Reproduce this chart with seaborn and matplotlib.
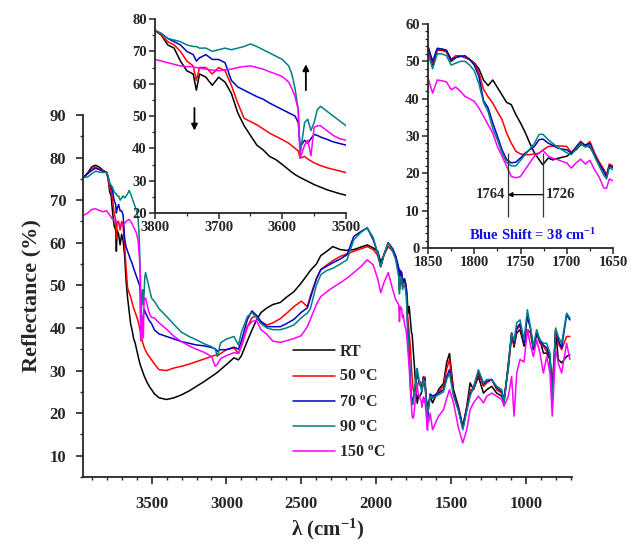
import matplotlib
matplotlib.use("Agg")
import numpy as np
import pandas as pd
import seaborn as sns
import matplotlib.pyplot as plt
from matplotlib.ticker import MultipleLocator

# wavenumber grid (cm-1): left shoulder, OH region (inset 1), middle, C=O region (inset 2), fingerprint
wavenumber = [3950, 3925, 3900, 3875, 3850, 3825,
              3800, 3790, 3780, 3770, 3760, 3750, 3740, 3735, 3730, 3720, 3710, 3700, 3690, 3680,
              3670, 3660, 3650, 3640, 3630, 3620, 3610, 3600, 3590, 3585, 3580, 3575, 3572, 3565,
              3560, 3555, 3550, 3545, 3540, 3530, 3520, 3510, 3500,
              3480, 3450, 3400, 3350, 3300, 3250, 3200, 3150, 3100, 3075, 3060, 3040, 3000, 2950,
              2920, 2900, 2860, 2830, 2800, 2770, 2730, 2690, 2640, 2600, 2550, 2500, 2460, 2440,
              2400, 2370, 2330, 2290, 2240, 2195, 2150, 2100, 2060, 2020, 1990, 1970, 1950, 1920,
              1890, 1870,
              1850, 1845, 1840, 1835, 1830, 1825, 1820, 1815, 1810, 1805, 1800, 1795, 1790, 1785,
              1780, 1775, 1770, 1765, 1760, 1755, 1750, 1745, 1740, 1735, 1730, 1726, 1720, 1715,
              1710, 1705, 1700, 1695, 1690, 1685, 1680, 1675, 1670, 1665, 1660, 1657, 1654, 1650,
              1640, 1624, 1584, 1551, 1529, 1511, 1484, 1451, 1422, 1396, 1373, 1351, 1318, 1284,
              1262, 1229, 1196, 1162, 1147, 1118, 1096, 1080, 1062, 1040, 1013, 991, 969, 951,
              929, 907, 884, 862, 840, 825, 802, 785, 762, 729, 707]

rt = [75.5, 76.5, 77.8, 78.2, 77.8, 77,
      76.5, 75, 72, 71, 67, 64, 63, 58, 63, 62, 59.5, 62, 60.5, 57,
      51, 47, 44, 41, 39.5, 37.5, 36.5, 35, 33.4, 32.6, 31.9, 31.3, 31, 30.3,
      29.8, 29.3, 28.8, 28.4, 28, 27.2, 26.6, 26, 25.5,
      24.5, 23.6, 23.2, 23.6, 24.3, 25.2, 26.3, 27.4, 28.6, 29.2, 29.6, 30.2, 31.4, 33,
      32.5, 33.5, 37, 39.5, 41.8, 43.6, 44.7, 45.5, 46, 47.2, 48.5, 50.6, 52.5, 53.5,
      55, 57, 58, 59.1, 58.4, 58.2, 58.4, 59, 59.5, 58.8, 58, 55.5, 57, 60,
      58.5, 56.8,
      54, 49, 53, 53, 52.5, 50, 51, 51.5, 51, 50.5, 49.6, 48, 45, 43.5,
      45, 43, 41, 39, 38.4, 35.7, 33.5, 31, 28.1, 25.5, 23.7, 22.3, 24.1, 23.6,
      24, 24.3, 24.6, 25.5, 26.3, 27.7, 27.5, 27, 25, 23, 21, 19.5, 22, 22,
      24, 22.4, 25.5, 27, 32, 34, 25.5, 21.5, 16.9, 21.5, 27.1, 25.5, 28.6, 24.7,
      25.5, 26.3, 24.7, 24, 22.4, 31.8, 38.8, 35.5, 38.8, 39.6, 35.7, 39.6, 38.8, 34.9,
      38.8, 37.2, 34.1, 34.1, 32.6, 25.5, 39.6, 32.6, 31.8, 33.3, 33.7]

c50 = [75.5, 76.3, 77.3, 77.8, 77.3, 77,
       76.5, 75, 73, 72, 70, 67, 65.5, 61, 65, 65, 63, 65, 64, 59.5,
       54, 49.3, 48.3, 47.3, 46, 44.7, 43.7, 42.7, 41.6, 40.8, 40, 39.2, 37, 37.5,
       36.7, 36.1, 35.5, 35.1, 34.7, 34, 33.5, 33, 32.5,
       31.5, 30.2, 30, 30.6, 31, 31.5, 32.1, 32.7, 33.3, 33.6, 33.5, 34, 34.9, 35.3,
       34, 35.6, 40.3, 42.4, 42.8, 41.5, 40.7, 41.2, 42.2, 43.4, 45, 46.3, 45, 47.5,
       51.5, 53.7, 54.8, 55.8, 56.8, 57.4, 58, 58.6, 59.1, 58.4, 57, 54.4, 57, 59.1,
       58, 56.4,
       53, 49.5, 53, 53.2, 52.5, 50.5, 51.5, 51.5, 51, 50.5, 49.5, 47, 42.5, 40.5,
       38.8, 36.5, 34.4, 30.8, 28.1, 25.9, 25.2, 25, 25, 25.2, 25.4, 26.2, 27.2, 27.3,
       27.4, 27.3, 27.2, 25.6, 27, 28.6, 27.5, 28.5, 25.5, 23, 21, 19.5, 22.5, 22,
       24, 23.5, 25, 26.3, 30.5, 32.6, 24.7, 21, 16.5, 21, 25.5, 25.5, 29.4, 26.3,
       27.1, 27.9, 25.5, 24.7, 23.5, 30.5, 38, 36, 39.6, 40.5, 36.4, 39.6, 38.8, 35.3,
       38.8, 36.4, 35.7, 34.5, 33.3, 24, 39.6, 36.4, 34.9, 38, 38]

c70 = [75.5, 76.3, 77, 77.5, 77.2, 76.8,
       76.5, 75.5, 74, 73, 72, 70, 69, 67, 68, 69, 67.5, 67.5, 66.5, 61,
       59, 58, 57, 56, 55.2, 54, 53, 52, 51, 50.5, 50, 48, 40.5, 42.5,
       41.6, 43, 44.3, 44, 43.5, 42.8, 42, 41.5, 41,
       39.5, 38.6, 38, 37.4, 36.8, 36.4, 36, 35.8, 35.4, 35.1, 34.5, 34.9, 34.9, 35.5,
       35, 37, 42, 44, 43, 41.5, 40.3, 40.3, 40.3, 41, 42, 43.7, 44.7, 47,
       51.5, 53.7, 54.5, 55.3, 56.2, 57.2, 61.5, 62.7, 63.5, 60.7, 57.5, 54.4, 57, 60,
       58.5, 56.8,
       54, 50, 53.5, 53.3, 53, 50.5, 51, 51.3, 51.5, 50.5, 49, 46, 39.5, 37.5,
       33.5, 30, 26.3, 23.7, 22.8, 23, 24.1, 25.4, 26.3, 27.2, 29, 29.2, 28.1, 27.5,
       26.8, 26.5, 26.3, 25.4, 27, 28.3, 27.5, 28, 25, 22.5, 20.5, 19, 22, 21.5,
       24.5, 24, 24.7, 25.5, 28.6, 30.2, 24.5, 20.8, 16.5, 20.8, 24.5, 26, 29.8, 26.8,
       27.5, 27.9, 26, 25, 23, 31, 38.8, 36.4, 40, 41, 36.4, 42.7, 39.6, 35.3,
       38.8, 36.8, 36, 35.3, 33.3, 23.2, 39.6, 37.2, 35.3, 43.1, 41.9]

c90 = [75.3, 75.5, 76.2, 76.8, 76.6, 76.5,
       76.5, 75.5, 74, 73.5, 73, 72, 71.5, 71.5, 71, 71, 70, 70.5, 71, 70.5,
       71, 71.5, 72.3, 71.5, 70.5, 69.5, 68.5, 67.5, 65.5, 63, 58.5, 52, 38, 48,
       49, 45.5, 48, 52, 53, 51.5, 50, 48.5, 47,
       46.2, 44.5, 42.7, 40.8, 39, 38, 37.2, 36.3, 35.6, 35, 33.3, 36.5, 37.4, 38,
       36, 39, 42.7, 43.6, 42.5, 41, 40, 39.6, 39.6, 40, 40.7, 42.4, 43.5, 44.5,
       50, 52.5, 53.5, 54, 55, 56, 60.7, 62.5, 63.5, 61.2, 57.5, 54.4, 57, 60,
       58, 56,
       52, 48, 52, 52, 51.5, 49, 49.5, 50, 50, 49, 47.5, 44, 39, 36.5,
       32, 29, 25.5, 23, 22, 22, 23.5, 25, 26.5, 28, 30.4, 30.5, 29, 28,
       27, 26.3, 25.5, 25, 26.5, 28, 27, 27.5, 24.5, 22, 19.5, 18.5, 21.5, 21,
       24, 23.5, 24.3, 25, 28, 29.4, 24, 20.5, 16.1, 20.5, 24, 26, 30.2, 27.1,
       27.9, 27.9, 26.3, 25.5, 22.4, 31, 38.8, 37, 41.2, 41.9, 37.2, 44.3, 40, 35.7,
       39.6, 37.2, 36.4, 36.4, 34.1, 22.4, 40, 38, 36.4, 43.5, 42.3]

c150 = [66.5, 67, 67.8, 68, 67.6, 67.3,
        67.5, 67, 66.5, 66, 65.5, 65.3, 65.2, 65, 64.8, 64.5, 64.2, 64, 64.3, 64.5,
        65, 65.3, 65.5, 65, 64.5, 63.7, 63, 62.2, 60.5, 58.5, 56, 52, 37, 41,
        42.5, 37.7, 46.5, 47, 47, 45.5, 44, 43, 42.5,
        42.3, 41.2, 39.7, 38, 36.8, 35.8, 35, 34.3, 33.3, 31, 31.5, 32.8, 33.5, 34.2,
        34, 36, 40.3, 41.5, 41.8, 39.6, 38.5, 36.9, 36.6, 37, 37.5, 38.2, 40.3, 42,
        45.5, 47.4, 48.5, 49.5, 50.6, 51.7, 53, 54.5, 56, 54.8, 51.5, 48.3, 50.5, 53,
        49, 46.6,
        45.5, 41.5, 45, 44.8, 44.5, 42.4, 43.1, 42, 40.6, 40, 39.3, 37.5, 35.3, 33,
        30.8, 27.2, 24.6, 21.9, 19.2, 18.8, 19.2, 21, 22.8, 24.6, 25.4, 26.2, 24.6, 24,
        23.7, 23.2, 22.8, 21.4, 22.8, 23.8, 22.5, 23.5, 21, 19, 16.1, 16, 18.5, 18,
        20, 16.1, 19.3, 20.8, 23.5, 25.5, 22.4, 16.5, 13, 16.1, 20.8, 22.4, 24, 22.4,
        24, 24.7, 24, 23.2, 21.6, 24, 28.6, 19.3, 29.4, 32.6, 32, 39.6, 35.7, 33.3,
        37.2, 34.1, 29.4, 33.3, 29.4, 19.3, 34.9, 31.8, 29.4, 36.4, 32.6]

labels = ["RT", r"50 $^{o}$C", r"70 $^{o}$C", r"90 $^{o}$C", r"150 $^{o}$C"]
colors = ["#000000", "#ff0000", "#0000c8", "#008080", "#ff00ff"]

frames = []
for lab, vals in zip(labels, [rt, c50, c70, c90, c150]):
    frames.append(pd.DataFrame({"wn": wavenumber, "R": vals, "sample": lab}))
df = pd.concat(frames, ignore_index=True)
pal = dict(zip(labels, colors))

sns.set_style("ticks")
plt.rcParams["font.family"] = ["Liberation Serif", "DejaVu Serif"]
plt.rcParams["font.weight"] = "bold"
plt.rcParams["mathtext.fontset"] = "custom"
plt.rcParams["mathtext.rm"] = "Liberation Serif:bold"
plt.rcParams["mathtext.it"] = "Liberation Serif:bold:italic"
plt.rcParams["mathtext.bf"] = "Liberation Serif:bold"
plt.rcParams["mathtext.default"] = "rm"

fig = plt.figure(figsize=(6.31, 5.5), dpi=100)
ax = fig.add_axes([0.1315, 0.1327, 0.7750, 0.6582])
ins1 = fig.add_axes([0.2456, 0.6127, 0.3027, 0.3527])
ins2 = fig.add_axes([0.6783, 0.5490, 0.2932, 0.4074])

for a in (ax, ins1, ins2):
    sns.lineplot(data=df, x="wn", y="R", hue="sample", palette=pal, estimator=None,
                 sort=False, linewidth=1.1, ax=a, legend=(a is ax))
    a.set_facecolor("none")
    for s in ("top", "right"):
        a.spines[s].set_visible(False)
    for s in ("left", "bottom"):
        a.spines[s].set_linewidth(1.3)
    a.set_xlabel("")
    a.set_ylabel("")

# main axes
ax.set_xlim(3958, 693)
ax.set_ylim(5, 90)
ax.xaxis.set_major_locator(MultipleLocator(500))
ax.xaxis.set_minor_locator(MultipleLocator(100))
ax.yaxis.set_minor_locator(MultipleLocator(5))
ax.set_yticks(np.arange(10, 91, 10))
ax.tick_params(which="major", length=5, width=1.2, labelsize=12)
ax.tick_params(axis="x", which="major", pad=9)
ax.tick_params(axis="y", which="major", pad=7)
ax.tick_params(which="minor", length=2.5, width=1.0)
ax.set_xlabel(r"λ (cm$^{-1}$)", fontsize=15, fontweight="bold", labelpad=3)
ax.set_ylabel("Reflectance (%)", fontsize=16, fontweight="bold", labelpad=6)

handles, labs = ax.get_legend_handles_labels()
ax.legend(handles, labs, loc="upper left", bbox_to_anchor=(293 / 631, 1 - 344 / 550),
          bbox_transform=fig.transFigure, frameon=False, fontsize=11.5,
          handlelength=2.6, handletextpad=0.3, labelspacing=0.58,
          borderpad=0, borderaxespad=0)

# inset 1: OH region
ins1.set_xlim(3800, 3500)
ins1.set_ylim(20, 80)
ins1.xaxis.set_major_locator(MultipleLocator(100))
ins1.xaxis.set_minor_locator(MultipleLocator(50))
ins1.yaxis.set_major_locator(MultipleLocator(10))
ins1.yaxis.set_minor_locator(MultipleLocator(5))
ins1.tick_params(which="major", length=4, width=1.1, labelsize=10.5, pad=2)
ins1.tick_params(which="minor", length=2, width=0.9)
ins1.annotate("", xy=(3738, 45.5), xytext=(3738, 52.5),
              arrowprops=dict(arrowstyle="-|>", color="black", lw=1.3, mutation_scale=9,
                              shrinkA=0, shrinkB=0))
ins1.annotate("", xy=(3563, 66), xytext=(3563, 58),
              arrowprops=dict(arrowstyle="-|>", color="black", lw=1.3, mutation_scale=9,
                              shrinkA=0, shrinkB=0))

# inset 2: C=O region
ins2.set_xlim(1850, 1650)
ins2.set_ylim(0, 60)
ins2.xaxis.set_major_locator(MultipleLocator(50))
ins2.xaxis.set_minor_locator(MultipleLocator(25))
ins2.yaxis.set_major_locator(MultipleLocator(10))
ins2.yaxis.set_minor_locator(MultipleLocator(2))
ins2.tick_params(which="major", length=4, width=1.1, labelsize=10.5, pad=2)
ins2.tick_params(which="minor", length=2, width=0.9)
ins2.vlines([1764, 1726], 8.2, 25.5, color="#333333", lw=0.9)
ins2.annotate("", xy=(1764, 14.3), xytext=(1726, 14.3),
              arrowprops=dict(arrowstyle="-|>", color="black", lw=0.9, mutation_scale=7,
                              shrinkA=0, shrinkB=0))
ins2.text(1767, 14.3, "1764", ha="right", va="center", fontsize=10.5, fontweight="bold")
ins2.text(1723, 14.3, "1726", ha="left", va="center", fontsize=10.5, fontweight="bold")
ins2.text(1737, 3.4, r"Blue Shift = 38 cm$^{-1}$", ha="center", va="center",
          fontsize=10.5, fontweight="bold", color="#1010e0")

fig.savefig("out.png", dpi=100)
